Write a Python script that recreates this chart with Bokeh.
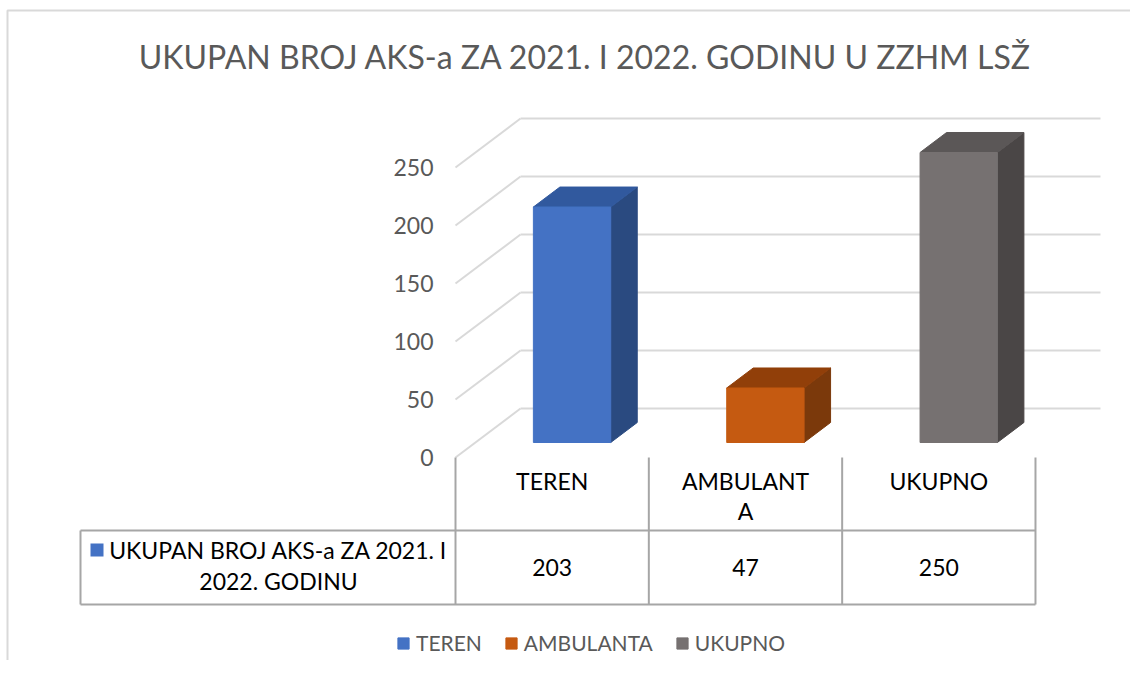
from bokeh.plotting import figure
from bokeh.models import Range1d, ColumnDataSource, Legend, LegendItem
from bokeh.core.properties import value
from bokeh.embed import file_html
from bokeh.resources import INLINE

# ---------------- data ----------------
title_text = "UKUPAN BROJ AKS-a ZA 2021. I 2022. GODINU U ZZHM LSŽ"
categories = ["TEREN", "AMBULANTA", "UKUPNO"]
values = [203, 47, 250]
series_name = "UKUPAN BROJ AKS-a ZA 2021. I 2022. GODINU"
y_ticks = [0, 50, 100, 150, 200, 250]

# ---------------- styles ----------------
front_colors = ["#4472C4", "#C55A11", "#767171"]
top_colors = ["#31599E", "#913F09", "#5B5757"]
side_colors = ["#2A4A80", "#7B390B", "#4A4646"]
FONT = "Lato"
GREY_TXT = "#595959"

# ---------------- layout (page pixels) ----------------
W, H = 1130, 660
OFF = 0
X0, XU = 455.0, 193.33      # page x of category 0 edge, px per category
Y0, YU = 457.0, 1.16        # page y of value 0, px per value unit
DX, DY = 65.0 / XU, 49.0 / YU   # full depth offset in data units
T0, T1 = 0.306, 0.714           # bar depth span (fraction of floor depth)
BAR_W = 0.40


def dx(pagex):
    return (pagex - X0) / XU


def dy(pagey):
    return (Y0 - pagey) / YU


p = figure(width=W, height=H,
           x_range=Range1d(dx(OFF), dx(OFF + W)),
           y_range=Range1d(dy(OFF + H), dy(OFF)),
           output_backend="svg", toolbar_location=None,
           x_axis_location=None, y_axis_location=None,
           min_border=0, tools="")
p.grid.visible = False
p.outline_line_color = None
p.background_fill_color = "white"

ncat = len(categories)

# chart outer border (left & top)
p.line([dx(7), dx(7), dx(OFF + W + 10)], [dy(OFF + H + 10), dy(10), dy(10)],
       line_color="#d9d9d9", line_width=2)

# ---------------- walls / gridlines ----------------
back_xs = [[DX, ncat + DX] for v in y_ticks]
back_ys = [[v + DY, v + DY] for v in y_ticks]
side_xs = [[0, DX] for v in y_ticks]
side_ys = [[v, v + DY] for v in y_ticks]
p.multi_line(back_xs + side_xs, back_ys + side_ys, line_color="#d9d9d9", line_width=2)

# ---------------- 3D bars ----------------
fx, fy, tx, ty, sx, sy = [], [], [], [], [], []
ddx, ddy = (T1 - T0) * DX, (T1 - T0) * DY
for i, v in enumerate(values):
    xl = i + 0.5 - BAR_W / 2 + T0 * DX
    xr = xl + BAR_W
    yb = T0 * DY
    yt = v + T0 * DY
    fx.append([xl, xr, xr, xl]); fy.append([yb, yb, yt, yt])
    tx.append([xl, xr, xr + ddx, xl + ddx]); ty.append([yt, yt, yt + ddy, yt + ddy])
    sx.append([xr, xr + ddx, xr + ddx, xr]); sy.append([yb, yb + ddy, yt + ddy, yt])

p.patches(sx, sy, fill_color=side_colors, line_color=side_colors, line_width=1)
p.patches(tx, ty, fill_color=top_colors, line_color=top_colors, line_width=1)
front_src = ColumnDataSource(dict(xs=fx, ys=fy, c=front_colors, name=categories))
front_r = p.patches("xs", "ys", source=front_src, fill_color="c", line_color="c", line_width=1)

# ---------------- y tick labels ----------------
p.text(x=[dx(433)] * len(y_ticks), y=y_ticks, text=[str(t) for t in y_ticks],
       text_align="right", text_baseline="middle", text_font=value(FONT),
       text_font_size="23px", text_color=GREY_TXT)

# ---------------- title ----------------
p.text(x=[dx(585)], y=[dy(56)], text=[title_text], text_align="center",
       text_baseline="middle", text_font=value(FONT), text_font_size="32px",
       text_color=GREY_TXT)

# ---------------- data table ----------------
TBL_TOP, TBL_ROW, TBL_BOT, TBL_LEFT = 457, 530, 604, 80
tl_xs = [[i, i] for i in range(ncat + 1)] + [[dx(TBL_LEFT), dx(TBL_LEFT)],
                                               [dx(TBL_LEFT), ncat], [dx(TBL_LEFT), ncat]]
tl_ys = [[dy(TBL_TOP), dy(TBL_BOT)] for i in range(ncat + 1)] + [
    [dy(TBL_ROW), dy(TBL_BOT)], [dy(TBL_ROW), dy(TBL_ROW)], [dy(TBL_BOT), dy(TBL_BOT)]]
p.multi_line(tl_xs, tl_ys, line_color="#a6a6a6", line_width=2)


def wrap(s, n=8):
    return s if len(s) <= n else s[:n] + "\n" + s[n:]


centers = [i + 0.5 for i in range(ncat)]
p.text(x=centers, y=[dy(466)] * ncat, text=[wrap(c) for c in categories],
       text_align="center", text_baseline="top", text_font=value(FONT),
       text_font_size="23px", text_color="black", text_line_height=1.1)
p.text(x=centers, y=[dy(567)] * ncat, text=[str(v) for v in values],
       text_align="center", text_baseline="middle", text_font=value(FONT),
       text_font_size="23px", text_color="black")

# legend key inside table
p.rect(x=[dx(96.5)], y=[dy(549.5)], width=13 / XU, height=13 / YU,
       fill_color=front_colors[0], line_color=None)
p.text(x=[dx(278)], y=[dy(565)], text=["UKUPAN BROJ AKS-a ZA 2021. I\n2022. GODINU"],
       text_align="center", text_baseline="middle", text_font=value(FONT),
       text_font_size="23px", text_color="black", text_line_height=1.1)

# ---------------- legend ----------------
legend = Legend(items=[LegendItem(label=c, renderers=[front_r], index=i)
                       for i, c in enumerate(categories)],
                orientation="horizontal", location=(396, 5),
                glyph_width=14, glyph_height=14, label_standoff=6, spacing=22,
                padding=0, margin=0, border_line_color=None,
                background_fill_alpha=0, label_text_font=FONT,
                label_text_font_size="21px", label_text_color=GREY_TXT)
p.add_layout(legend)

open("out.html", "w").write(file_html(p, INLINE))
